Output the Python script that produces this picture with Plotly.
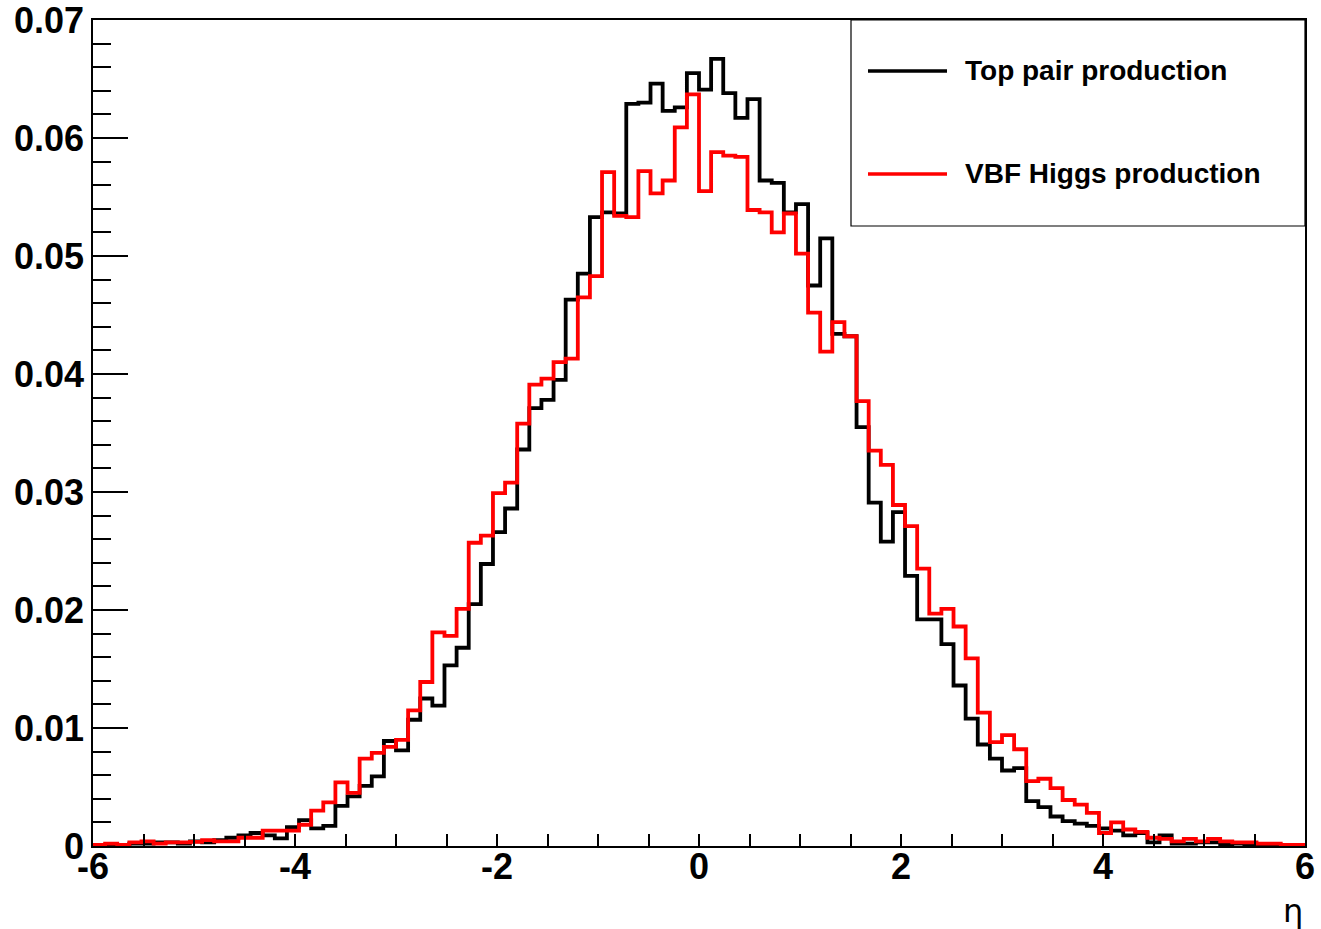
import numpy as np
import plotly.graph_objects as go

# Histogram binning
bin_lo, bin_hi, nbins = -6.0, 6.0, 100

# Top pair production (black), bin contents
top_pair = [
    0.0001, 0.0001, 0.0001, 0.0002, 0.0002, 0.0003, 0.0003, 0.0002, 0.0004, 0.0003,
    0.0005, 0.0007, 0.0009, 0.0011, 0.0009, 0.00065, 0.0016, 0.0022, 0.0015, 0.0017,
    0.0034, 0.0042, 0.0051, 0.0059, 0.0089, 0.0081, 0.0107, 0.0125, 0.0119, 0.0153,
    0.0168, 0.0205, 0.0239, 0.0266, 0.0286, 0.0336, 0.0371, 0.0378, 0.0395, 0.0463,
    0.0485, 0.0533, 0.0537, 0.0536, 0.0629, 0.0630, 0.0646, 0.0623, 0.0626, 0.0655,
    0.0641, 0.0667, 0.0638, 0.0617, 0.0633, 0.0564, 0.0562, 0.0537, 0.0544, 0.0475,
    0.0515, 0.0434, 0.0432, 0.0355, 0.0291, 0.0258, 0.0283, 0.0229, 0.0192, 0.0192,
    0.0171, 0.0136, 0.0108, 0.0086, 0.0074, 0.0064, 0.0066, 0.0038, 0.0033, 0.0025,
    0.0021, 0.0019, 0.0017, 0.0015, 0.0013, 0.0009, 0.0011, 0.0003, 0.0009, 0.0002,
    0.0002, 0.0003, 0.0003, 0.0001, 0.0002, 0.0001, 0.0001, 0.0001, 0.0001, 0.0001,
]

# VBF Higgs production (red), bin contents
vbf_higgs = [
    0.0001, 0.0002, 0.0001, 0.0003, 0.0004, 0.0002, 0.0003, 0.0003, 0.00035, 0.0005,
    0.0004, 0.0004, 0.0007, 0.0007, 0.0013, 0.0013, 0.0013, 0.0018, 0.0030, 0.0037,
    0.0054, 0.0045, 0.0074, 0.0079, 0.0084, 0.0090, 0.0115, 0.0139, 0.0181, 0.0178,
    0.0201, 0.0257, 0.0263, 0.0299, 0.0308, 0.0358, 0.0391, 0.0396, 0.0410, 0.0413,
    0.0465, 0.0483, 0.0571, 0.0534, 0.0533, 0.0572, 0.0553, 0.0564, 0.0609, 0.0637,
    0.0555, 0.0588, 0.0585, 0.0584, 0.0539, 0.0537, 0.0520, 0.0536, 0.0502, 0.0452,
    0.0419, 0.0444, 0.0432, 0.0377, 0.0335, 0.0323, 0.0289, 0.0271, 0.0235, 0.0197,
    0.0201, 0.0186, 0.0159, 0.0113, 0.0088, 0.0094, 0.0082, 0.0055, 0.0057, 0.0049,
    0.0039, 0.0035, 0.0028, 0.0011, 0.0020, 0.0014, 0.0012, 0.0007, 0.0006, 0.0004,
    0.0006, 0.0004, 0.0006, 0.0004, 0.0003, 0.0003, 0.0002, 0.0002, 0.0001, 0.0001,
]

series_names = ["Top pair production", "VBF Higgs production"]
series_colors = ["#000000", "#ff0000"]
x_ticks = [-6, -4, -2, 0, 2, 4, 6]
y_ticks = [0, 0.01, 0.02, 0.03, 0.04, 0.05, 0.06, 0.07]
y_ticklabels = ["0", "0.01", "0.02", "0.03", "0.04", "0.05", "0.06", "0.07"]
x_title = "η"

edges = np.linspace(bin_lo, bin_hi, nbins + 1)

# Page / plot-area geometry in pixels
W, H = 1321, 929
ML, MR, MT, MB = 93, 16, 20, 83
PW, PH = W - ML - MR, H - MT - MB

fig = go.Figure()
for vals, name, col in zip([top_pair, vbf_higgs], series_names, series_colors):
    y = list(vals) + [vals[-1]]
    fig.add_trace(go.Scatter(
        x=edges, y=y, mode="lines", line=dict(color=col, width=3.8, shape="hv"),
        name=name, showlegend=False, hoverinfo="skip",
    ))

tickfont = dict(family="Liberation Sans", size=36, color="black", weight="bold")

fig.update_layout(
    width=W, height=H, autosize=False,
    margin=dict(l=ML, r=MR, t=MT, b=MB, autoexpand=False),
    paper_bgcolor="white", plot_bgcolor="white",
    showlegend=False,
    xaxis=dict(
        range=[bin_lo, bin_hi], tickvals=x_ticks, ticktext=[str(v) for v in x_ticks],
        ticks="inside", ticklen=12, tickwidth=1.5, tickcolor="black",
        minor=dict(dtick=0.5, ticks="inside", ticklen=12, tickwidth=1.5, tickcolor="black", showgrid=False),
        showline=True, linecolor="black", linewidth=1.5, mirror=True,
        showgrid=False, zeroline=False, tickfont=tickfont, ticklabeloverflow="allow",
        ticklabelstandoff=-12, automargin=False,
    ),
    yaxis=dict(
        range=[0, 0.07], tickvals=y_ticks, ticktext=y_ticklabels,
        ticks="inside", ticklen=35, tickwidth=1.5, tickcolor="black",
        minor=dict(dtick=0.002, tick0=0, ticks="inside", ticklen=18, tickwidth=1.5, tickcolor="black", showgrid=False),
        showline=True, linecolor="black", linewidth=1.5, mirror=True,
        showgrid=False, zeroline=False, tickfont=tickfont, ticklabeloverflow="allow",
        automargin=False,
    ),
)

# Axis title (ROOT style, bottom right)
fig.add_annotation(
    text=x_title, xref="paper", yref="paper", x=1.0, y=-0.053,
    xanchor="right", yanchor="top", showarrow=False,
    font=dict(family="DejaVu Sans", size=32, color="black"),
)

# Manual ROOT-like legend box (positions relative to the plot frame)
leg_x0 = 1 - (1305 - 851) / PW
leg_y0 = 1 - (226 - 20) / PH
fig.add_shape(type="rect", xref="paper", yref="paper", x0=leg_x0, x1=1.0, y0=leg_y0, y1=1.0,
              line=dict(color="black", width=1.2), fillcolor="white", layer="above")
entry_y = [1 - (71 - 20) / PH, 1 - (174 - 20) / PH]
line_x0 = leg_x0 + (868 - 851) / PW
line_x1 = leg_x0 + (947 - 851) / PW
text_x = leg_x0 + (963 - 851) / PW
for ey, name, col in zip(entry_y, series_names, series_colors):
    fig.add_shape(type="line", xref="paper", yref="paper", x0=line_x0, x1=line_x1, y0=ey, y1=ey,
                  line=dict(color=col, width=3.5), layer="above")
    fig.add_annotation(text=name, xref="paper", yref="paper", x=text_x, y=ey,
                       xanchor="left", yanchor="middle", showarrow=False,
                       font=dict(family="Liberation Sans", size=28, color="black", weight="bold"))

fig.write_html("out.html", config={"displayModeBar": False},
               post_script="document.body.style.margin='0';document.body.style.overflow='hidden';")
